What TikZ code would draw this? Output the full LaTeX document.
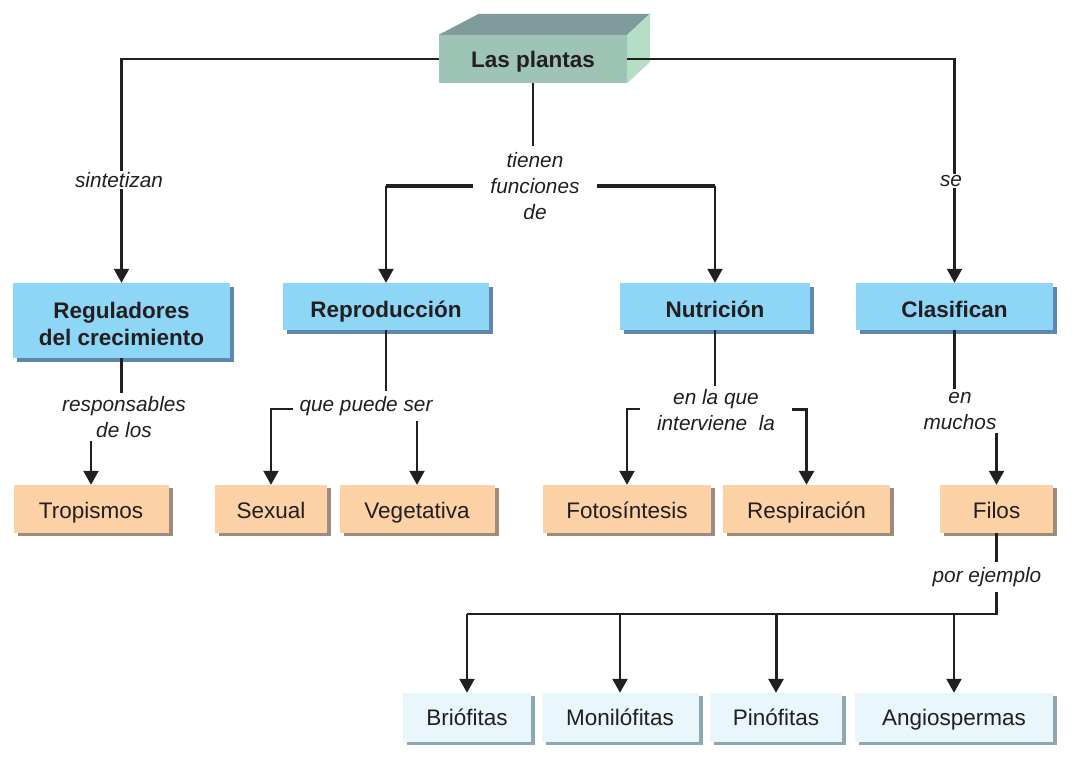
\documentclass[tikz,border=0pt]{standalone}
\usepackage{fontspec}
\setmainfont{Liberation Sans}
\usetikzlibrary{arrows.meta,shadows,calc}
\definecolor{cblue}{HTML}{8ED6F6}
\definecolor{cblueS}{HTML}{5E87AE}
\definecolor{corange}{HTML}{FCD1A6}
\definecolor{corangeS}{HTML}{9E8B7A}
\definecolor{clight}{HTML}{E9F6FC}
\definecolor{clightS}{HTML}{8FA6B3}
\definecolor{cfront}{HTML}{9DC4B5}
\definecolor{ctop}{HTML}{7F9B9C}
\definecolor{cside}{HTML}{B5DFC5}
\definecolor{cink}{HTML}{231F20}
\tikzset{
  boxbase/.style={rectangle, inner sep=0pt, align=center, text=cink},
  bluebox/.style={boxbase, fill=cblue, minimum height=47pt,
    font=\bfseries\fontsize{22.5}{27}\selectfont, text height=23pt, text depth=0pt,
    drop shadow={shadow xshift=4pt, shadow yshift=-4pt, fill=cblueS, opacity=1}},
  orangebox/.style={boxbase, fill=corange, minimum height=48pt,
    font=\fontsize{22.5}{26}\selectfont, text height=20pt, text depth=2pt,
    drop shadow={shadow xshift=4pt, shadow yshift=-3pt, fill=corangeS, opacity=1}},
  lightbox/.style={boxbase, fill=clight, minimum height=49pt,
    font=\fontsize{22.5}{26}\selectfont, text height=17pt, text depth=2pt,
    drop shadow={shadow xshift=4pt, shadow yshift=-3pt, fill=clightS, opacity=1}},
  boxtext/.style={align=center, text=cink, inner sep=0pt, font=\bfseries\fontsize{22.5}{27}\selectfont},
  lbl/.style={fill=white, align=center, text=cink, inner xsep=4pt, inner ysep=3pt,
    font=\itshape\fontsize{20.8}{26}\selectfont},
  conn/.style={draw=cink, line width=2.2pt},
  arr/.style={conn, -{Triangle[width=15pt,length=14pt]}},
  heavyarr/.style={draw=cink, line width=3pt, -{Triangle[width=15pt,length=14pt]}},
  heavy/.style={draw=cink, line width=3.8pt},
}
\begin{document}
\begin{tikzpicture}[x=1pt,y=-1pt]
\useasboundingbox (0,0) rectangle (1076,775);

% top 3D box
\node[boxbase, fill=cfront, minimum width=188pt, minimum height=48pt,
      font=\bfseries\fontsize{22.5}{25}\selectfont, text height=20pt, text depth=2pt] (plantas) at (533,59) {Las plantas};
\fill[ctop] (plantas.north west) -- ++(40,-21) -- ++(171,0) -- (plantas.north east) -- cycle;
\fill[cside] (plantas.north east) -- ++(23,-21) -- ++(0,48) -- (plantas.south east) -- cycle;

% level 2
\node[bluebox, minimum width=217pt, minimum height=75pt] (reg) at (121.5,320.5) {};
\node[boxtext] (regtxt) at (121.5,323.5) {Reguladores\\del crecimiento};
\node[bluebox, minimum width=206pt] (rep) at (386,306.5) {Reproducción};
\node[bluebox, minimum width=190pt] (nut) at (715,306.5) {Nutrición};
\node[bluebox, minimum width=197pt] (clas) at (954.5,306.5) {Clasifican};

% level 3
\node[orangebox, minimum width=155pt] (trop) at (91,509) {Tropismos};
\node[orangebox, minimum width=112pt] (sex) at (271,509) {Sexual};
\node[orangebox, minimum width=155pt] (veg) at (417,509) {Vegetativa};
\node[orangebox, minimum width=168pt] (foto) at (627,509) {Fotosíntesis};
\node[orangebox, minimum width=167pt] (resp) at (806.5,509) {Respiración};
\node[orangebox, minimum width=113pt] (filos) at (996.5,509) {Filos};

% level 4
\node[lightbox, minimum width=128pt] (brio) at (467,717.5) {Briófitas};
\node[lightbox, minimum width=157pt] (moni) at (620,717.5) {Monilófitas};
\node[lightbox, minimum width=132pt] (pino) at (776,717.5) {Pinófitas};
\node[lightbox, minimum width=198pt] (angio) at (954,717.5) {Angiospermas};

\coordinate (tfdpos) at (plantas.south |- 0,186);
\coordinate (fork) at (filos.south |- 0,614);

% connectors from top
\draw[arr] (plantas.west) -| (reg.north);
\draw[arr] (plantas.east) -| (clas.north);
\draw[conn] (plantas.south) -- (tfdpos);
\draw[heavy] (tfdpos) -- (tfdpos -| rep.north);
\draw[heavy] (tfdpos) -- (tfdpos -| nut.north);
\draw[arr] (tfdpos -| rep.north) -- (rep.north);
\draw[arr] (tfdpos -| nut.north) -- (nut.north);

% Reguladores
\draw[conn] (reg.south) -- (reg.south |- 0,416);
\draw[arr] (trop.north |- 0,416) -- (trop.north);
% Reproduccion
\draw[conn] (rep.south) -- (rep.south |- 0,409);
\draw[arr] (rep.south |- 0,409) -| (sex.north);
\draw[arr] (veg.north |- 0,409) -- (veg.north);
% Nutricion
\draw[conn] (nut.south) -- (nut.south |- 0,409);
\draw[arr] (nut.south |- 0,409) -| (foto.north);
\draw[heavyarr] (nut.south |- 0,409) -| (resp.north);
% Clasifican
\draw[conn] (clas.south) -- (clas.south |- 0,410);
\draw[arr] (filos.north |- 0,410) -- (filos.north);
% Filos
\draw[conn] (filos.south) -- (fork) -- (fork -| brio.north);
\draw[arr] (fork -| brio.north) -- (brio.north);
\draw[arr] (fork -| moni.north) -- (moni.north);
\draw[heavyarr] (fork -| pino.north) -- (pino.north);
\draw[arr] (fork -| angio.north) -- (angio.north);

% labels
\node[lbl, inner ysep=1pt] (sint) at (119,180) {sintetizan};
\node[lbl, inner ysep=1pt] (se) at (951,181) {se};
\node[lbl, inner xsep=17pt, inner ysep=6pt] (tfd) at (535,186) {tienen\\funciones\\de};
\node[lbl] (rdl) at (124,417) {responsables\\de los};
\node[lbl, inner xsep=7pt, inner ysep=5pt] (qps) at (366,406) {que puede ser};
\node[lbl, inner xsep=17pt] (eql) at (716,410) {en la que\\interviene\ \ la};
\node[lbl, inner xsep=4pt] (emu) at (960,411) {en\\muchos};
\node[lbl, inner ysep=5pt] (pej) at (987,577) {por ejemplo};
\end{tikzpicture}
\end{document}
